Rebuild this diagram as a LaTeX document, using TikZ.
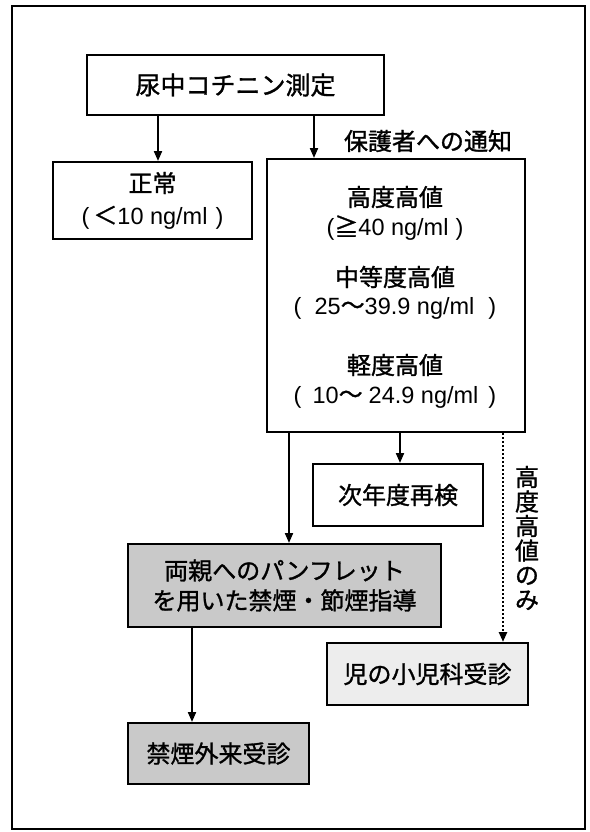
\documentclass[tikz,border=0pt]{standalone}
\usepackage{fontspec}
\setmainfont{Noto Sans CJK JP}[AutoFakeBold=1.2]
\newfontfamily\lat{Liberation Sans}
\newcommand\la[1]{{\fontsize{23.5}{32}\lat\mdseries #1}}
\usetikzlibrary{arrows.meta}
\begin{document}
\begin{tikzpicture}[x=1pt,y=-1pt,
  box/.style={draw, line width=2pt, inner sep=0pt, align=center, font=\fontsize{24}{32}\selectfont\bfseries},
  shadedark/.style={box, fill=gray!42},
  shadelight/.style={box, fill=gray!14},
  txt/.style={inner sep=0pt, align=center, font=\fontsize{24}{31}\selectfont\bfseries},
  arr/.style={line width=2pt, -{Triangle[length=10pt,width=8pt]}},
  dotarr/.style={arr, line width=2.4pt, dash pattern=on 2.2pt off 1.8pt}
]
\useasboundingbox (0,0) rectangle (589,832);
\draw[line width=1.6pt] (12,6) rectangle (585,829);

\node[box, minimum width=297pt, minimum height=60pt, font=\fontsize{25}{32}\selectfont\bfseries] (top) at (235.5,85) {尿中コチニン測定};
\node[box, minimum width=199pt, minimum height=77pt] (normal) at (152.5,200.5) {正常\\\la{(\hspace{4pt}}＜\la{10 ng/ml\hspace{8pt})}};
\node[box, minimum width=258pt, minimum height=273pt] (main) at (396,295.5) {};
\node[txt] (hi) at (395,197) {高度高値};
\node[txt] (hiv) at (395,228) {\la{(}≧\la{40 ng/ml\hspace{7pt})}};
\node[txt] (mid) at (395,277) {中等度高値};
\node[txt] (midv) at (395,308) {\la{(\hspace{13pt}25}～\la{39.9 ng/ml\hspace{14pt})}};
\node[txt] (low) at (395,365) {軽度高値};
\node[txt] (lowv) at (395,397) {\la{(\hspace{11pt}10}～\la{\hspace{6pt}24.9 ng/ml\hspace{10pt})}};
\node[txt] (notice) at (428,141) {保護者への通知};

\node[box, minimum width=170pt, minimum height=62pt] (recheck) at (398,495) {次年度再検};
\node[shadedark, minimum width=313pt, minimum height=83pt, font=\fontsize{24}{30}\selectfont\bfseries] (pamph) at (284.5,585.5) {両親へのパンフレット\\を用いた禁煙・節煙指導};
\node[shadedark, minimum width=181pt, minimum height=61pt] (clinic) at (218.5,753.5) {禁煙外来受診};
\node[shadelight, minimum width=201pt, minimum height=62pt] (ped) at (427.5,674) {児の小児科受診};
\node[txt, font=\fontsize{24}{24.5}\selectfont\bfseries] (only) at (527,538) {高\\度\\高\\値\\の\\み};

\coordinate (xa) at (158,0);
\coordinate (xb) at (314,0);
\coordinate (xc) at (289,0);
\coordinate (xd) at (400,0);
\coordinate (xe) at (503,0);
\coordinate (xf) at (192,0);

\draw[arr] (top.south -| xa) -- (normal.north -| xa);
\draw[arr] (top.south -| xb) -- (main.north -| xb);
\draw[arr] (main.south -| xc) -- (pamph.north -| xc);
\draw[arr] (main.south -| xd) -- (recheck.north -| xd);
\draw[dotarr] (main.south -| xe) -- (ped.north -| xe);
\draw[arr] (pamph.south -| xf) -- (clinic.north -| xf);
\end{tikzpicture}
\end{document}
